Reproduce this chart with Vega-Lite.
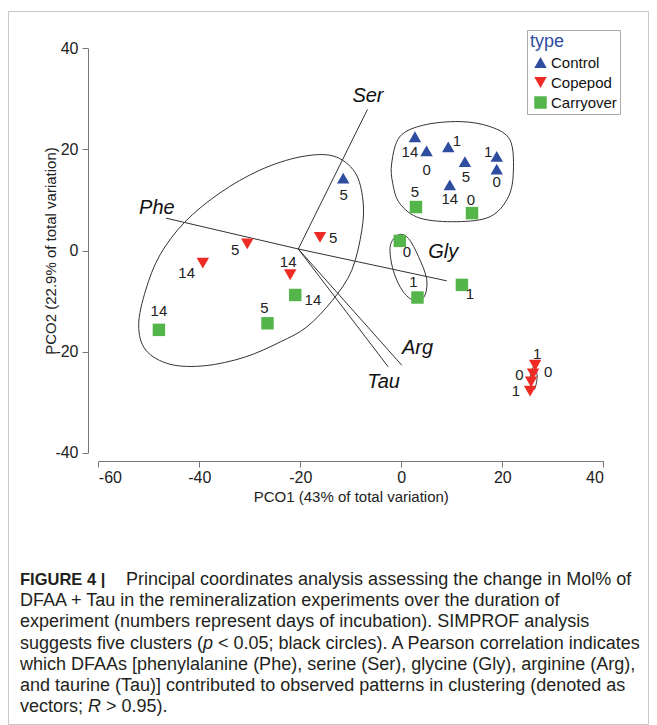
{
  "$schema": "https://vega.github.io/schema/vega-lite/v6.json",
  "autosize": {"type": "none"},
  "width": 640,
  "height": 713,
  "padding": {"left": 8, "top": 11, "right": 9, "bottom": 1},
  "background": "white",
  "config": {"view": {"stroke": "#c8c8c8", "strokeWidth": 1}, "font": "Liberation Sans"},
  "datasets": {
    "pts": [
      {"t": "Control", "d": "14", "x": 2.7, "y": 22.5, "lx": 1.7, "ly": 19.5},
      {"t": "Control", "d": "0", "x": 5.0, "y": 19.7, "lx": 5.0, "ly": 15.9},
      {"t": "Control", "d": "1", "x": 9.3, "y": 20.5, "lx": 11.0, "ly": 21.7},
      {"t": "Control", "d": "5", "x": 12.6, "y": 17.6, "lx": 12.8, "ly": 14.6},
      {"t": "Control", "d": "14", "x": 9.6, "y": 13.0, "lx": 9.6, "ly": 10.2},
      {"t": "Control", "d": "1", "x": 18.9, "y": 18.6, "lx": 17.2, "ly": 19.5},
      {"t": "Control", "d": "0", "x": 18.9, "y": 16.1, "lx": 18.9, "ly": 13.6},
      {"t": "Control", "d": "5", "x": -11.5, "y": 14.3, "lx": -11.4, "ly": 11.0},
      {"t": "Copepod", "d": "5", "x": -16.1, "y": 2.6, "lx": -13.5, "ly": 2.5},
      {"t": "Copepod", "d": "5", "x": -30.5, "y": 1.3, "lx": -32.9, "ly": 0.1},
      {"t": "Copepod", "d": "14", "x": -39.3, "y": -2.5, "lx": -42.5, "ly": -4.4},
      {"t": "Copepod", "d": "14", "x": -22.0, "y": -4.8, "lx": -22.4, "ly": -2.3},
      {"t": "Copepod", "d": "1", "x": 26.5, "y": -22.7, "lx": 26.9, "ly": -20.5},
      {"t": "Copepod", "d": "0", "x": 26.1, "y": -24.4, "lx": 29.1, "ly": -24.0},
      {"t": "Copepod", "d": "0", "x": 25.7, "y": -26.0, "lx": 23.4, "ly": -24.6},
      {"t": "Copepod", "d": "1", "x": 25.5, "y": -27.8, "lx": 22.7, "ly": -27.8},
      {"t": "Carryover", "d": "5", "x": 2.9, "y": 8.6, "lx": 2.7, "ly": 11.6},
      {"t": "Carryover", "d": "0", "x": 14.0, "y": 7.4, "lx": 13.8, "ly": 10.0},
      {"t": "Carryover", "d": "0", "x": -0.3, "y": 1.9, "lx": 1.1, "ly": -0.2},
      {"t": "Carryover", "d": "1", "x": 3.2, "y": -9.3, "lx": 2.4, "ly": -6.2},
      {"t": "Carryover", "d": "1", "x": 12.0, "y": -6.8, "lx": 13.6, "ly": -8.6},
      {"t": "Carryover", "d": "14", "x": -21.0, "y": -8.8, "lx": -17.5, "ly": -9.7},
      {"t": "Carryover", "d": "5", "x": -26.5, "y": -14.4, "lx": -27.1, "ly": -11.4},
      {"t": "Carryover", "d": "14", "x": -48.0, "y": -15.7, "lx": -48.0, "ly": -11.9}
    ],
    "ell": [
      {"e": 1, "i": 0, "x": -13.5, "y": 18.7},
      {"e": 1, "i": 1, "x": -9.2, "y": 15.5},
      {"e": 1, "i": 2, "x": -7.6, "y": 10.0},
      {"e": 1, "i": 3, "x": -7.8, "y": 4.1},
      {"e": 1, "i": 4, "x": -9.8, "y": -3.9},
      {"e": 1, "i": 5, "x": -13.6, "y": -9.8},
      {"e": 1, "i": 6, "x": -18.7, "y": -15.1},
      {"e": 1, "i": 7, "x": -24.0, "y": -18.1},
      {"e": 1, "i": 8, "x": -31.0, "y": -21.1},
      {"e": 1, "i": 9, "x": -38.9, "y": -22.8},
      {"e": 1, "i": 10, "x": -45.8, "y": -22.5},
      {"e": 1, "i": 11, "x": -50.6, "y": -19.7},
      {"e": 1, "i": 12, "x": -52.0, "y": -14.7},
      {"e": 1, "i": 13, "x": -50.6, "y": -7.8},
      {"e": 1, "i": 14, "x": -47.8, "y": -0.9},
      {"e": 1, "i": 15, "x": -42.9, "y": 5.6},
      {"e": 1, "i": 16, "x": -35.9, "y": 11.4},
      {"e": 1, "i": 17, "x": -28.0, "y": 15.9},
      {"e": 1, "i": 18, "x": -20.1, "y": 18.5},
      {"e": 2, "i": 0, "x": -1.9, "y": 17.3},
      {"e": 2, "i": 1, "x": -0.3, "y": 22.5},
      {"e": 2, "i": 2, "x": 4.4, "y": 24.8},
      {"e": 2, "i": 3, "x": 11.6, "y": 25.5},
      {"e": 2, "i": 4, "x": 17.6, "y": 24.5},
      {"e": 2, "i": 5, "x": 21.5, "y": 21.9},
      {"e": 2, "i": 6, "x": 22.2, "y": 15.9},
      {"e": 2, "i": 7, "x": 21.2, "y": 10.6},
      {"e": 2, "i": 8, "x": 17.6, "y": 6.7},
      {"e": 2, "i": 9, "x": 11.0, "y": 5.7},
      {"e": 2, "i": 10, "x": 3.7, "y": 6.4},
      {"e": 2, "i": 11, "x": -0.3, "y": 9.3},
      {"e": 2, "i": 12, "x": -1.7, "y": 13.3},
      {"e": 3, "i": 0, "x": -0.6, "y": 3.1},
      {"e": 3, "i": 1, "x": -2.2, "y": 0.8},
      {"e": 3, "i": 2, "x": -1.6, "y": -3.9},
      {"e": 3, "i": 3, "x": 0.4, "y": -8.2},
      {"e": 3, "i": 4, "x": 3.0, "y": -10.1},
      {"e": 3, "i": 5, "x": 4.7, "y": -8.8},
      {"e": 3, "i": 6, "x": 5.0, "y": -5.5},
      {"e": 3, "i": 7, "x": 3.4, "y": -1.2},
      {"e": 3, "i": 8, "x": 1.4, "y": 2.4},
      {"e": 4, "i": 0, "x": 26.3, "y": -22.8},
      {"e": 4, "i": 1, "x": 26.9, "y": -25.0},
      {"e": 4, "i": 2, "x": 26.3, "y": -27.5},
      {"e": 4, "i": 3, "x": 25.5, "y": -25.6}
    ],
    "vec": [
      {"v": "Ser", "x": -20.4, "y": 0.3, "x2": -6.7, "y2": 27.9, "lx": -6.6, "ly": 30.6},
      {"v": "Phe", "x": -20.4, "y": 0.3, "x2": -46.6, "y2": 6.4, "lx": -48.4, "ly": 8.5},
      {"v": "Gly", "x": -20.4, "y": 0.3, "x2": 9.0, "y2": -6.0, "lx": 8.3, "ly": -0.2},
      {"v": "Arg", "x": -20.4, "y": 0.3, "x2": 0.1, "y2": -22.7, "lx": 3.2, "ly": -19.3},
      {"v": "Tau", "x": -20.4, "y": 0.3, "x2": -2.6, "y2": -23.0, "lx": -3.5, "ly": -26.0}
    ],
    "cap": [
      {"line": 1, "part": 1, "text": "Principal coordinates analysis assessing the change in Mol% of"},
      {"line": 2, "part": 1, "text": "DFAA + Tau in the remineralization experiments over the duration of"},
      {"line": 3, "part": 1, "text": "experiment (numbers represent days of incubation). SIMPROF analysis"},
      {"line": 4, "part": 1, "text": "suggests five clusters ("},
      {"line": 4, "part": 2, "text": "p"},
      {"line": 4, "part": 3, "text": "< 0.05; black circles). A Pearson correlation indicates"},
      {"line": 5, "part": 1, "text": "which DFAAs [phenylalanine (Phe), serine (Ser), glycine (Gly), arginine (Arg),"},
      {"line": 6, "part": 1, "text": "and taurine (Tau)] contributed to observed patterns in clustering (denoted as"},
      {"line": 7, "part": 1, "text": "vectors;"},
      {"line": 7, "part": 2, "text": "R"},
      {"line": 7, "part": 3, "text": "> 0.95)."}
    ]
  },
  "layer": [
    {
      "layer": [
        {
          "data": {"name": "ell"},
          "mark": {"type": "line", "interpolate": "cardinal-closed", "color": "#333", "strokeWidth": 1},
          "encoding": {
            "x": {"field": "x", "type": "quantitative", "title": "PCO1 (43% of total variation)",
              "scale": {"domain": [-60, 40], "range": [90.3, 595.3], "nice": false, "zero": false},
              "axis": {"values": [-60, -40, -20, 0, 20, 40], "labelExpr": "replace(datum.label, '\u2212', '-')", "offset": -263, "grid": false, "domainColor": "#777", "tickColor": "#777", "tickSize": 6, "labelFontSize": 16, "labelColor": "#222", "labelPadding": 2, "labelFont": "Liberation Sans", "titleFont": "Liberation Sans", "titleFontSize": 15, "titleFontWeight": "normal", "titleColor": "#222", "titlePadding": 4}},
            "y": {"field": "y", "type": "quantitative", "title": "PCO2 (22.9% of total variation)",
              "scale": {"domain": [-40, 40], "range": [441.7, 37.3], "nice": false, "zero": false},
              "axis": {"values": [-40, -20, 0, 20, 40], "labelExpr": "replace(datum.label, '\u2212', '-')", "offset": -80, "grid": false, "domainColor": "#777", "tickColor": "#777", "tickSize": 6, "labelAngle": 0, "labelFontSize": 16, "labelColor": "#222", "labelPadding": 4, "labelFont": "Liberation Sans", "titleFont": "Liberation Sans", "titleFontSize": 15, "titleFontWeight": "normal", "titleColor": "#222", "titlePadding": -4}},
            "detail": {"field": "e"},
            "order": {"field": "i", "type": "quantitative"}
          }
        },
        {
          "data": {"name": "vec"},
          "mark": {"type": "rule", "color": "#333", "strokeWidth": 1},
          "encoding": {
            "x": {"field": "x", "type": "quantitative", "title": "PCO1 (43% of total variation)"},
            "y": {"field": "y", "type": "quantitative", "title": "PCO2 (22.9% of total variation)"},
            "x2": {"field": "x2"},
            "y2": {"field": "y2"}
          }
        },
        {
          "data": {"name": "vec"},
          "mark": {"type": "text", "fontSize": 20, "fontStyle": "italic", "font": "Liberation Sans", "color": "#111", "align": "center", "baseline": "middle"},
          "encoding": {
            "x": {"field": "lx", "type": "quantitative", "title": "PCO1 (43% of total variation)"},
            "y": {"field": "ly", "type": "quantitative", "title": "PCO2 (22.9% of total variation)"},
            "text": {"field": "v"}
          }
        },
        {
          "data": {"name": "pts"},
          "mark": {"type": "point", "filled": true, "opacity": 1},
          "encoding": {
            "x": {"field": "x", "type": "quantitative", "title": "PCO1 (43% of total variation)"},
            "y": {"field": "y", "type": "quantitative", "title": "PCO2 (22.9% of total variation)"},
            "color": {"field": "t", "type": "nominal",
              "scale": {"domain": ["Control", "Copepod", "Carryover"], "range": ["#2E4D9F", "#EE2A24", "#54B54A"]},
              "legend": {"title": "type", "orient": "none", "legendX": 519, "legendY": 19, "titleColor": "#2E4D9F", "titleFontSize": 18, "titleFontWeight": "normal", "titleFont": "Liberation Sans", "labelFont": "Liberation Sans", "labelFontSize": 15, "labelColor": "#111", "labelExpr": "datum.label + '\u00a0\u00a0\u00a0'", "strokeColor": "#aaa", "fillColor": "white", "padding": 3, "rowPadding": 4, "symbolSize": 120, "symbolOffset": 3, "titlePadding": 4, "labelOffset": 3}},
            "shape": {"field": "t", "type": "nominal",
              "scale": {"domain": ["Control", "Copepod", "Carryover"], "range": ["triangle-up", "triangle-down", "square"]},
              "legend": {"title": "type", "orient": "none", "legendX": 519, "legendY": 19, "titleColor": "#2E4D9F", "titleFontSize": 18, "titleFontWeight": "normal", "titleFont": "Liberation Sans", "labelFont": "Liberation Sans", "labelFontSize": 15, "labelColor": "#111", "labelExpr": "datum.label + '\u00a0\u00a0\u00a0'", "strokeColor": "#aaa", "fillColor": "white", "padding": 3, "rowPadding": 4, "symbolSize": 120, "symbolOffset": 3, "titlePadding": 4, "labelOffset": 3}},
            "size": {"field": "t", "type": "nominal", "scale": {"domain": ["Control", "Copepod", "Carryover"], "range": [155, 155, 110]}, "legend": null}
          }
        },
        {
          "data": {"name": "pts"},
          "mark": {"type": "text", "fontSize": 15, "font": "Liberation Sans", "color": "#222", "align": "center", "baseline": "middle"},
          "encoding": {
            "x": {"field": "lx", "type": "quantitative", "title": "PCO1 (43% of total variation)"},
            "y": {"field": "ly", "type": "quantitative", "title": "PCO2 (22.9% of total variation)"},
            "text": {"field": "d"}
          }
        }
      ]
    },
    {
      "data": {"name": "cap"},
      "encoding": {
        "x": {"datum": 0, "type": "quantitative", "scale": {"domain": [0, 1], "range": [12, 640]}, "axis": null},
        "y": {"field": "line", "type": "quantitative", "scale": {"domain": [1, 7], "range": [569, 696], "zero": false, "nice": false}, "axis": null},
        "text": {"field": "text"}
      },
      "layer": [
        {
          "transform": [{"filter": "datum.line > 1 && datum.part == 1"}],
          "mark": {"type": "text", "align": "left", "baseline": "middle", "fontSize": 18, "font": "Liberation Sans", "color": "#231f20"}
        },
        {
          "transform": [{"filter": "datum.line == 1"}],
          "mark": {"type": "text", "align": "left", "baseline": "middle", "fontSize": 18, "font": "Liberation Sans", "color": "#231f20", "dx": 106}
        },
        {
          "transform": [{"filter": "datum.line == 4 && datum.part == 2"}],
          "mark": {"type": "text", "align": "left", "baseline": "middle", "fontSize": 18, "font": "Liberation Sans", "fontStyle": "italic", "color": "#231f20", "dx": 183}
        },
        {
          "transform": [{"filter": "datum.line == 4 && datum.part == 3"}],
          "mark": {"type": "text", "align": "left", "baseline": "middle", "fontSize": 18, "font": "Liberation Sans", "color": "#231f20", "dx": 198}
        },
        {
          "transform": [{"filter": "datum.line == 7 && datum.part == 2"}],
          "mark": {"type": "text", "align": "left", "baseline": "middle", "fontSize": 18, "font": "Liberation Sans", "fontStyle": "italic", "color": "#231f20", "dx": 68}
        },
        {
          "transform": [{"filter": "datum.line == 7 && datum.part == 3"}],
          "mark": {"type": "text", "align": "left", "baseline": "middle", "fontSize": 18, "font": "Liberation Sans", "color": "#231f20", "dx": 86}
        },
        {
          "transform": [{"filter": "datum.line == 1"}],
          "mark": {"type": "text", "align": "left", "baseline": "middle", "fontSize": 16.5, "font": "Liberation Sans", "fontWeight": "bold", "color": "#231f20"},
          "encoding": {"text": {"value": "FIGURE 4 |"}}
        }
      ]
    }
  ],
  "resolve": {"scale": {"x": "independent", "y": "independent"}}
}
